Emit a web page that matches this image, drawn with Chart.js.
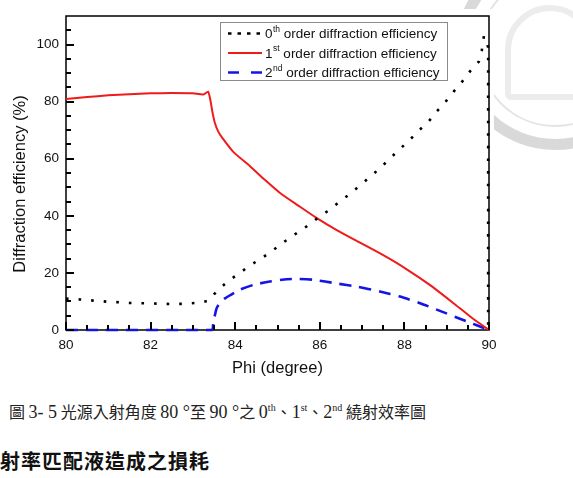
<!DOCTYPE html>
<html><head><meta charset="utf-8">
<script src="https://cdn.jsdelivr.net/npm/chart.js@4.4.1/dist/chart.umd.min.js"></script>
<style>
html,body{margin:0;padding:0;background:#fff;}
#wrap{position:relative;width:573px;height:478px;overflow:hidden;background:#fff;}
#cvbox{position:absolute;left:0;top:0;width:573px;height:380px;}
#figbg{position:absolute;left:0;top:9px;width:494px;height:371px;background:#fff;}
.seal{position:absolute;border-radius:50%;box-sizing:border-box;}
#caption{position:absolute;left:9px;top:399px;height:24px;line-height:24px;font-family:"Noto Sans CJK TC","Noto Sans CJK SC",serif;font-size:16px;white-space:nowrap;color:#222;}
#caption sup{font-size:10px;line-height:0;vertical-align:7px;font-family:"Liberation Serif",serif;}
#caption .n{font-family:"Liberation Serif",serif;font-size:18px;}
#heading{position:absolute;left:0;top:446px;height:30px;line-height:30px;font-family:"Noto Sans CJK TC",sans-serif;font-size:20px;font-weight:700;letter-spacing:1px;white-space:nowrap;color:#111;}
</style></head>
<body>
<div id="wrap">
  <div class="seal" style="left:455px;top:-50px;width:200px;height:200px;border:11px solid #d9d9d9;"></div>
  <div class="seal" style="left:478px;top:-27px;width:154px;height:154px;border:2px solid #e4e4e4;"></div>
  <div class="seal" style="left:505px;top:5px;width:90px;height:95px;border-radius:45px 45px 6px 6px;border:6px solid #ececec;"></div>
  <div id="figbg"></div>
  <div id="cvbox"><canvas id="c" width="573" height="380"></canvas></div>
  <div id="caption">圖 <span class="n">3- 5</span> 光源入射角度 <span class="n">80 °</span>至 <span class="n">90 °</span>之 <span class="n">0<sup>th</sup></span>、<span class="n">1<sup>st</sup></span>、<span class="n">2<sup>nd</sup></span> 繞射效率圖</div>
  <div id="heading">射率匹配液造成之損耗</div>
</div>
<script>
// ---- data ----
const phi0 = [80, 80.33, 80.65, 81.0, 81.5, 82.0, 82.5, 82.85, 83.17, 83.35, 83.42, 83.5, 83.6, 83.84, 84.1, 84.35, 84.63, 84.89, 85.14, 85.4, 85.67, 85.93, 86.18, 86.44, 86.67, 86.93, 87.17, 87.41, 87.64, 87.87, 88.1, 88.33, 88.57, 88.77, 88.98, 89.17, 89.37, 89.55, 89.76, 89.83, 89.88, 89.93, 89.98, 89.98];
const eff0 = [11.0, 10.7, 10.3, 9.9, 9.5, 9.3, 9.1, 9.2, 9.6, 10.2, 10.8, 12.5, 14.1, 17.2, 19.9, 22.6, 25.2, 27.9, 30.7, 33.4, 36.1, 39.0, 41.6, 44.6, 47.2, 50.4, 53.4, 56.5, 59.8, 63.1, 66.2, 69.7, 73.0, 76.6, 80.1, 83.6, 87.1, 90.6, 94.0, 98.0, 103.0, 101.0, 99.0, 0];

const phi1 = [80, 80.5, 81, 81.5, 82, 82.5, 83.0, 83.25, 83.36, 83.42, 83.46, 83.52, 83.6, 83.7, 83.96, 84.35, 84.7, 85.06, 85.5, 85.93, 86.4, 86.95, 87.5, 88.01, 88.6, 89.16, 89.6, 90];
const eff1 = [80.9, 81.6, 82.2, 82.6, 82.9, 83.0, 82.9, 82.5, 83.5, 80.0, 76.5, 72.5, 69.5, 67.2, 62.3, 57.4, 52.6, 48.0, 43.5, 39.2, 35.0, 30.6, 26.2, 21.7, 15.8, 9.4, 4.2, 0];

const phi2 = [80, 83.45, 83.48, 83.56, 83.65, 83.76, 84.11, 84.43, 84.82, 85.22, 85.5, 85.85, 86.4, 86.87, 87.42, 87.9, 88.37, 88.84, 89.39, 90];
const eff2 = [0, 0, 2.3, 7.6, 9.6, 11.1, 14.1, 15.8, 17.0, 17.8, 17.9, 17.6, 16.3, 15.2, 13.5, 11.7, 9.4, 6.7, 3.5, 0];

const seriesNames = ['order diffraction efficiency', 'order diffraction efficiency', 'order diffraction efficiency'];
const seriesOrders = ['0', '1', '2'];
const seriesSups = ['th', 'st', 'nd'];

const xTicks = [80, 82, 84, 86, 88, 90];
const yTicks = [0, 20, 40, 60, 80, 100];
const xMinorTicks = [80.5, 81, 81.5, 82.5, 83, 83.5, 84.5, 85, 85.5, 86.5, 87, 87.5, 88.5, 89, 89.5];
const yMinorTicks = [5, 10, 15, 25, 30, 35, 45, 50, 55, 65, 70, 75, 85, 90, 95, 105];
const xTitle = 'Phi (degree)';
const yTitle = 'Diffraction efficiency (%)';

const pts = (xs, ys) => xs.map((x, i) => ({x: x, y: ys[i]}));

const FONT = '"Liberation Sans", Arial, sans-serif';

function drawInwardTicks(chart) {
  const ctx = chart.ctx, a = chart.chartArea;
  const xs = chart.scales.x, ys = chart.scales.y;
  const bottom = Math.round(a.bottom), left = Math.round(a.left);
  ctx.save();
  ctx.globalAlpha = 1;
  ctx.globalCompositeOperation = 'source-over';
  ctx.fillStyle = '#000000';
  xTicks.concat(xMinorTicks).forEach(v => {
    const len = xTicks.includes(v) ? 8 : 5;
    const px = Math.round(xs.getPixelForValue(v));
    ctx.fillRect(px - 1, bottom - len, 2, len);
  });
  yTicks.concat(yMinorTicks).forEach(v => {
    const len = yTicks.includes(v) ? 8 : 5;
    const py = Math.round(ys.getPixelForValue(v));
    ctx.fillRect(left, py - 1, len, 2);
  });
  ctx.restore();
}

const framePlugin = {
  id: 'frame',
  beforeDatasetsDraw(chart) {
    const {ctx, chartArea: a} = chart;
    ctx.save();
    ctx.setLineDash([]);
    ctx.strokeStyle = '#000';
    ctx.lineWidth = 1.5;
    ctx.strokeRect(a.left, a.top, a.right - a.left, a.bottom - a.top);
    ctx.restore();
  },
  afterDatasetsDraw(chart) {
    drawInwardTicks(chart);
  },
  afterDraw(chart) {
    const {ctx, chartArea: a} = chart;
    ctx.save();
    // y axis title
    ctx.fillStyle = '#111';
    ctx.font = '16.5px ' + FONT;
    ctx.textAlign = 'center';
    ctx.textBaseline = 'middle';
    ctx.translate(20, (a.top + a.bottom) / 2 + 11);
    ctx.rotate(-Math.PI / 2);
    ctx.fillText(yTitle, 0, 0);
    ctx.restore();

    // legend
    const bx = a.right - 269, by = a.top + 6, bw = 227, bh = 58;
    ctx.save();
    ctx.fillStyle = '#fff';
    ctx.fillRect(bx, by, bw, bh);
    ctx.strokeStyle = '#8a8a8a';
    ctx.lineWidth = 1;
    ctx.strokeRect(bx + 0.5, by + 0.5, bw, bh);
    chart.data.datasets.forEach((ds, i) => {
      const cy = by + 11.5 + i * 19.5;
      ctx.strokeStyle = ds.borderColor;
      ctx.lineWidth = ds.borderWidth;
      ctx.setLineDash(ds.legendDash || []);
      ctx.beginPath();
      ctx.moveTo(bx + 8, cy);
      ctx.lineTo(bx + 42, cy);
      ctx.stroke();
      ctx.setLineDash([]);
      ctx.fillStyle = '#111';
      ctx.textAlign = 'left';
      ctx.textBaseline = 'middle';
      ctx.font = '13.5px ' + FONT;
      let tx = bx + 45;
      ctx.fillText(seriesOrders[i], tx, cy + 1);
      tx += ctx.measureText(seriesOrders[i]).width;
      ctx.font = '8.5px ' + FONT;
      ctx.fillText(seriesSups[i], tx + 0.5, cy - 4);
      tx += ctx.measureText(seriesSups[i]).width + 0.5;
      ctx.font = '13.5px ' + FONT;
      ctx.fillText(' ' + seriesNames[i], tx, cy + 1);
    });
    ctx.restore();
  }
};

new Chart(document.getElementById('c'), {
  type: 'line',
  data: {
    datasets: [
      {label: '0th order diffraction efficiency', data: pts(phi0, eff0), borderColor: '#000', borderWidth: 2.6,
       borderDash: [2.6, 10], legendDash: [3.5, 6], pointRadius: 0, tension: 0, clip: false},
      {label: '1st order diffraction efficiency', data: pts(phi1, eff1), borderColor: '#f01a1a', borderWidth: 2,
       borderDash: [], legendDash: [], pointRadius: 0, tension: 0.2, clip: false},
      {label: '2nd order diffraction efficiency', data: pts(phi2, eff2), borderColor: '#1414e6', borderWidth: 2.6,
       borderDash: [12, 8], legendDash: [11, 12], pointRadius: 0, tension: 0.2, clip: false}
    ]
  },
  plugins: [framePlugin],
  options: {
    responsive: false,
    animation: false,
    events: [],
    layout: {padding: {left: 0, top: 16, right: 84, bottom: 0}},
    plugins: {legend: {display: false}, tooltip: {enabled: false}},
    scales: {
      x: {
        type: 'linear', min: 80, max: 90,
        grid: {display: false, drawTicks: false},
        border: {display: false},
        afterBuildTicks: s => { s.ticks = xTicks.map(v => ({value: v})); },
        afterFit: s => { s.height = 50; },
        ticks: {color: '#111', font: {family: FONT, size: 13.5}, padding: 7, maxRotation: 0},
        title: {display: true, text: xTitle, color: '#111', font: {family: FONT, size: 16.5}, padding: {top: 0, bottom: 2}}
      },
      y: {
        type: 'linear', min: 0, max: 110,
        grid: {display: false, drawTicks: false},
        border: {display: false},
        afterBuildTicks: s => { s.ticks = yTicks.map(v => ({value: v})); },
        afterFit: s => { s.width = 66; },
        ticks: {color: '#111', font: {family: FONT, size: 13.5}, padding: 7},
        title: {display: false, text: yTitle}
      }
    }
  }
});
</script>
</body></html>
